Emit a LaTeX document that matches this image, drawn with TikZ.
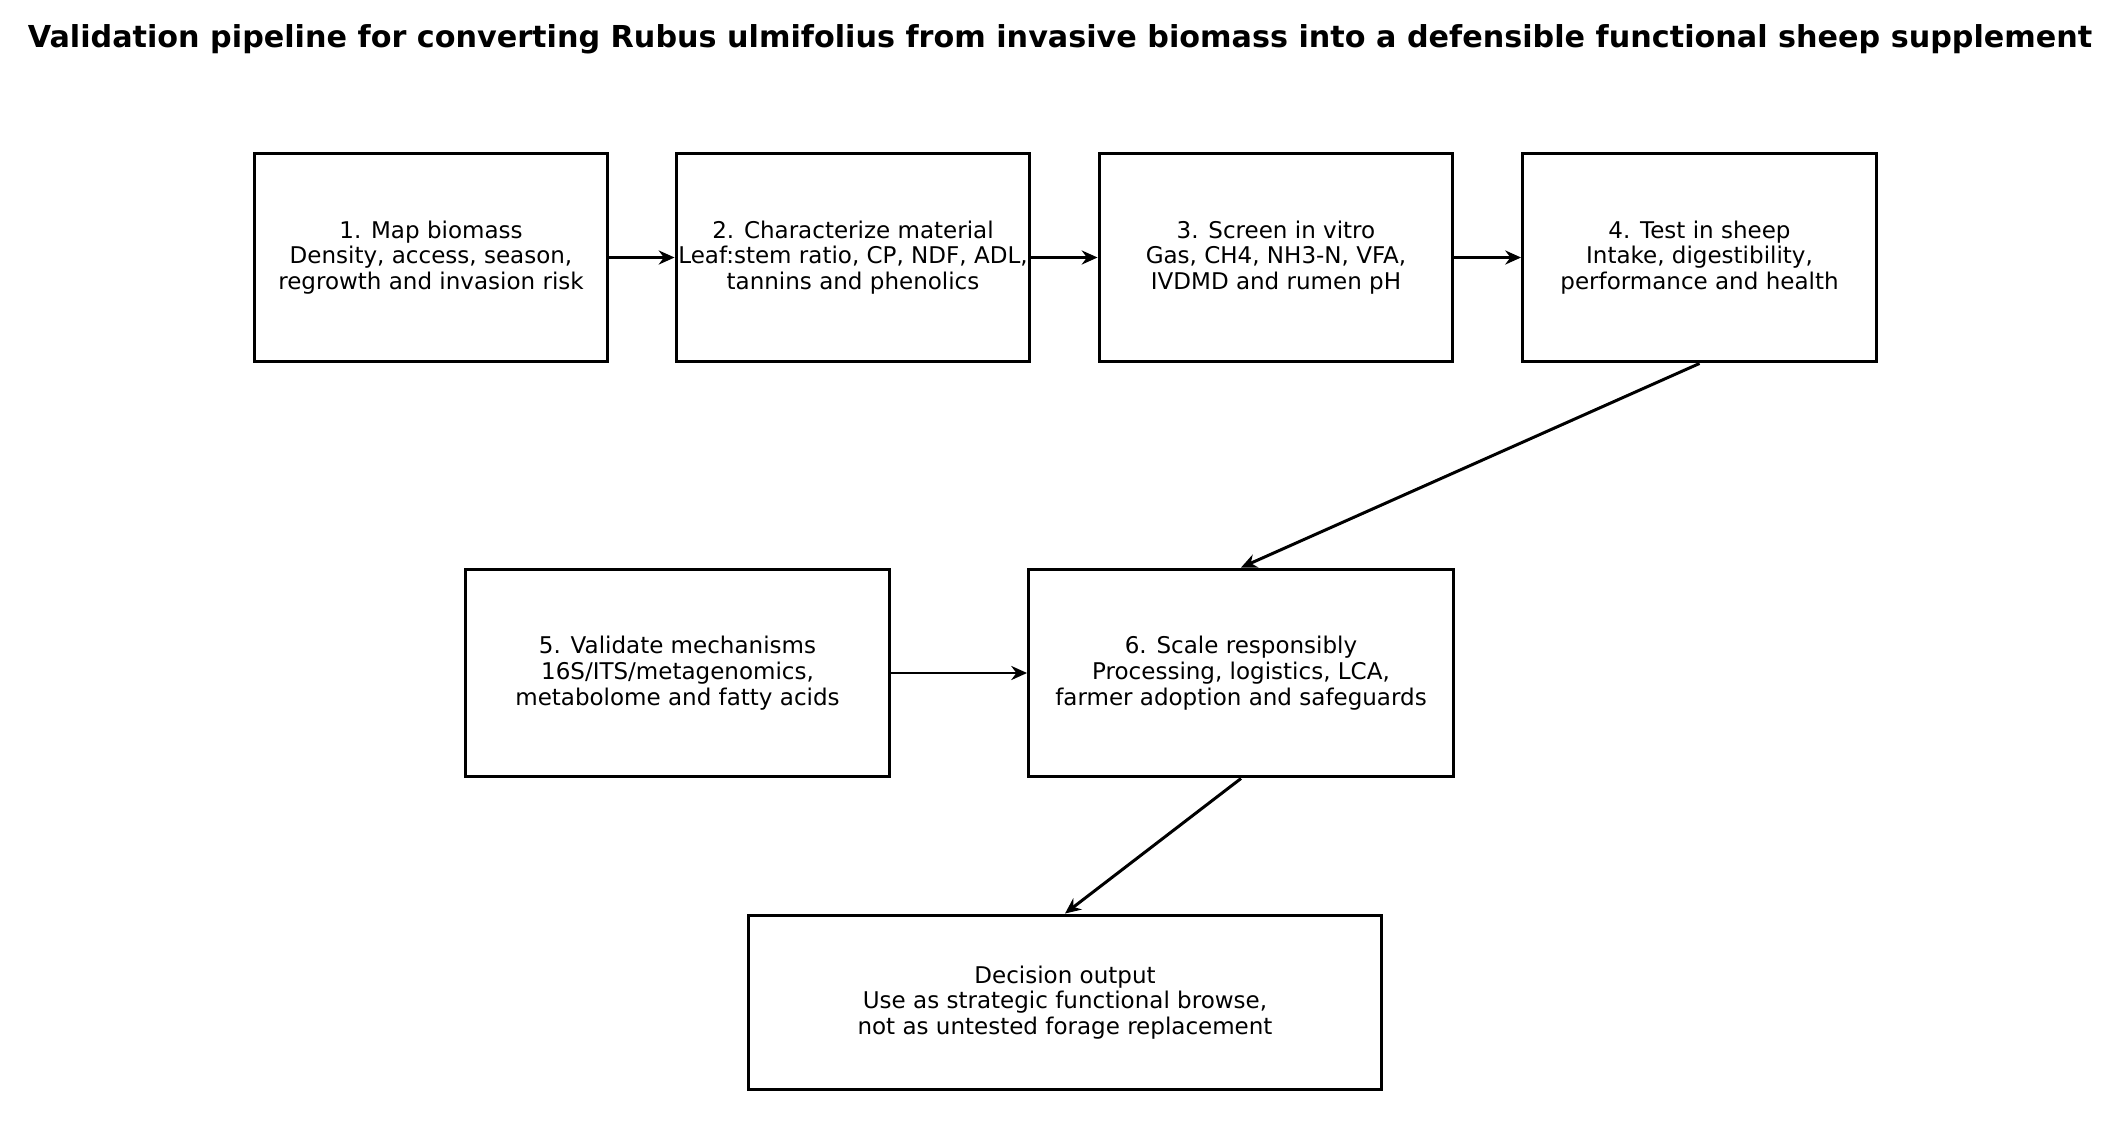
\documentclass[tikz,border=0pt]{standalone}
\usepackage{fontspec}
\setmainfont{DejaVu Sans}
\usetikzlibrary{arrows.meta}
\begin{document}
\begin{tikzpicture}[x=0.02cm,y=-0.02cm,
  stepbox/.style={draw=black, line width=1.7pt, fill=white, align=center,
    font=\fontsize{13.1}{14.6}\selectfont, inner sep=0pt},
  toprow/.style={stepbox, minimum width=7.08cm, minimum height=4.18cm},
  midrow/.style={stepbox, minimum width=8.5cm, minimum height=4.16cm},
  conn/.style={line width=1.7pt, -{Stealth[length=9pt,width=8pt]}}]
\fill[white] (0,0) rectangle (2120,1122);
\useasboundingbox (0,0) rectangle (2120,1122);
\node (title) at (1060,39) {\fontsize{17.2}{20}\selectfont\bfseries Validation pipeline for converting Rubus ulmifolius from invasive biomass into a defensible functional sheep supplement};
\node[toprow] (b1) at (431,257.5) {1. Map biomass\\Density, access, season,\\regrowth and invasion risk};
\node[toprow] (b2) at (853,257.5) {2. Characterize material\\Leaf:stem ratio, CP, NDF, ADL,\\tannins and phenolics};
\node[toprow] (b3) at (1276,257.5) {3. Screen in vitro\\Gas, CH4, NH3-N, VFA,\\IVDMD and rumen pH};
\node[toprow] (b4) at (1699.5,257.5) {4. Test in sheep\\Intake, digestibility,\\performance and health};
\node[midrow] (b5) at (677.5,673) {5. Validate mechanisms\\16S/ITS/metagenomics,\\metabolome and fatty acids};
\node[midrow] (b6) at (1241,673) {6. Scale responsibly\\Processing, logistics, LCA,\\farmer adoption and safeguards};
\node[stepbox, minimum width=12.68cm, minimum height=3.5cm] (b7) at (1065,1002.5) {Decision output\\Use as strategic functional browse,\\not as untested forage replacement};
\draw[conn] (b1.east) -- (b2.west);
\draw[conn] (b2.east) -- (b3.west);
\draw[conn] (b3.east) -- (b4.west);
\draw[conn] (b4.south) -- (b6.north);
\draw[conn] (b5.east) -- (b6.west);
\draw[conn] (b6.south) -- (b7.north);
\end{tikzpicture}
\end{document}
